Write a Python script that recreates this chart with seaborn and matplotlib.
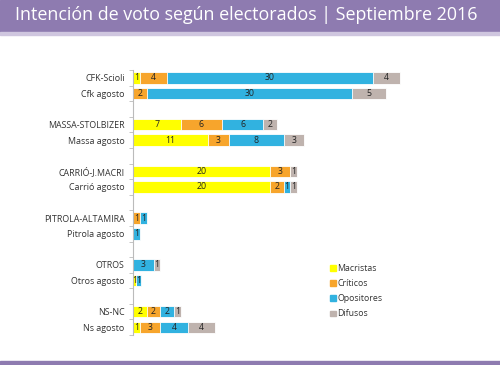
import seaborn as sns
import matplotlib.pyplot as plt
import pandas as pd
import numpy as np

# data
rows = ["CFK-Scioli", "Cfk agosto",
        "MASSA-STOLBIZER", "Massa agosto",
        "CARRIÓ-J.MACRI", "Carrió agosto",
        "PITROLA-ALTAMIRA", "Pitrola agosto",
        "OTROS", "Otros agosto",
        "NS-NC", "Ns agosto"]
macristas = [1, 0, 7, 11, 20, 20, 0, 0, 0, 0.5, 2, 1]
criticos = [4, 2, 6, 3, 3, 2, 1, 0, 0, 0, 2, 3]
opositores = [30, 30, 6, 8, 0, 1, 1, 1, 3, 0.7, 2, 4]
difusos = [4, 5, 2, 3, 1, 1, 0, 0, 1, 0, 1, 4]

series = ["Macristas", "Críticos", "Opositores", "Difusos"]
colors = ["#ffff00", "#f7a52c", "#31b2e0", "#bfb3ae"]

sns.set_theme(style="white")
plt.rcParams["font.family"] = ["Open Sans", "DejaVu Sans"]

# category order with blank spacer slots between groups
order = []
for i in range(0, len(rows), 2):
    if i > 0:
        order.append(" " * i)
    order += [rows[i], rows[i + 1]]

vals = np.array([macristas, criticos, opositores, difusos])
cum = vals.cumsum(axis=0)

fig = plt.figure(figsize=(5, 3.65), dpi=100)
ax = fig.add_axes([0.266, 0.082, 0.634, 0.726])

# draw cumulative bars from the largest down so they stack
for k in range(3, -1, -1):
    df = pd.DataFrame({"label": rows, "value": cum[k]})
    sns.barplot(data=df, x="value", y="label", order=order, orient="h",
                color=colors[k], saturation=1, width=0.74,
                edgecolor="white", linewidth=0.6, ax=ax)

# value labels
pos = {name: i for i, name in enumerate(order)}
for k in range(4):
    for j, name in enumerate(rows):
        v = vals[k, j]
        if v <= 0:
            continue
        start = cum[k, j] - v
        ax.text(start + v / 2, pos[name], str(int(v + 0.5)), ha="center",
                va="center", fontsize=6.3, color="#222222")

ax.set_xlim(0, 46.3)
ax.set_ylim(len(order) - 0.5, -0.5)
ax.set_xlabel("")
ax.set_ylabel("")
ax.set_xticks([])
ax.set_yticks(range(len(order)))
ax.set_yticklabels([o if o.strip() else "" for o in order])
ax.tick_params(axis="y", length=0, labelsize=6.4, colors="#333333", pad=6)
ax.set_yticks(np.arange(-0.5, len(order), 1), minor=True)
ax.tick_params(axis="y", which="minor", length=3, width=0.6, color="#bbbbbb",
               left=True)
for s in ["top", "right", "bottom"]:
    ax.spines[s].set_visible(False)
ax.spines["left"].set_color("#bbbbbb")
ax.spines["left"].set_linewidth(0.8)

# legend
handles = [plt.Rectangle((0, 0), 1, 1, color=c) for c in colors]
fig.legend(handles, series, loc="upper left", bbox_to_anchor=(0.645, 0.298),
           frameon=False, fontsize=6.3, handlelength=0.6, handleheight=0.6,
           handletextpad=0.2, labelspacing=0.7, labelcolor="#333333")

# header and footer bands
fig.patches.append(plt.Rectangle((0, 0.912), 1, 0.088, transform=fig.transFigure,
                                 color="#8e7bb0", zorder=0))
fig.patches.append(plt.Rectangle((0, 0.905), 1, 0.007, transform=fig.transFigure,
                                 color="#cfc6df", zorder=0))
fig.patches.append(plt.Rectangle((0, 0), 1, 0.012, transform=fig.transFigure,
                                 color="#8e7bb0", zorder=0))
fig.text(0.03, 0.958, "Intención de voto según electorados | Septiembre 2016",
         color="white", fontsize=12.9, va="center", ha="left")

fig.savefig("out.png", dpi=100)
